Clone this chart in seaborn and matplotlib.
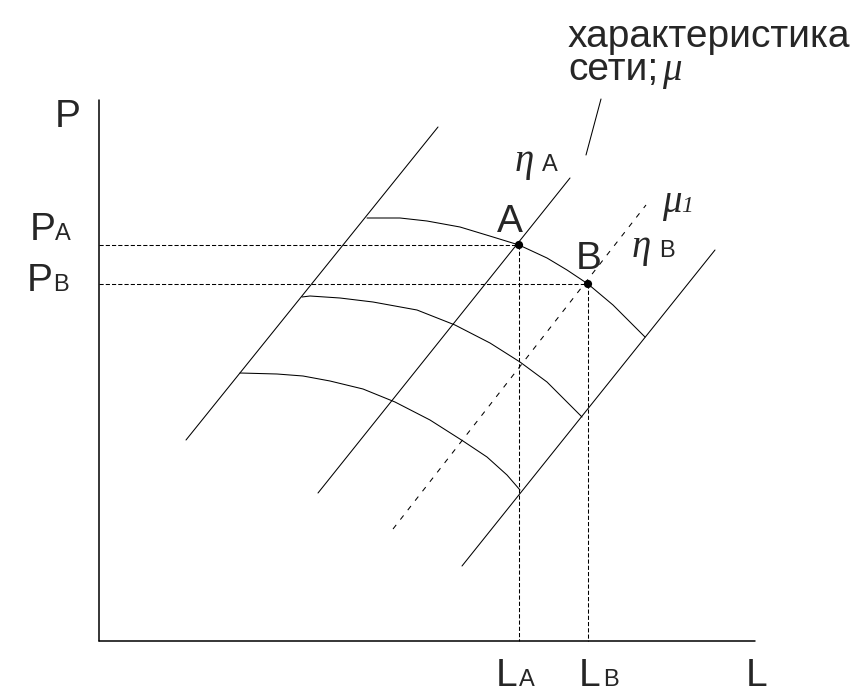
import numpy as np
import pandas as pd
import matplotlib.pyplot as plt
import seaborn as sns

sns.set_theme(style='white')
plt.rcParams['font.family'] = ['Liberation Sans', 'DejaVu Sans']

# all coordinates (pixels, y grows downward)
# coordinate axes
axis_x = [[99, 99], [99, 755]]
axis_y = [[100, 641], [641, 641]]

# straight rays: left, eta_A, eta_B
ray_x = [[186, 438], [318, 570], [462, 715]]
ray_y = [[440, 127], [493, 178], [566, 250]]

# dotted ray mu_1
mu1_x = [393, 646]
mu1_y = [529, 205]

# three arcs (top passes through A and B)
top_x = [367, 400, 427, 460, 493, 519, 547, 567, 588, 613, 633, 645]
top_y = [218, 218, 221, 227, 237, 245, 258, 270, 284, 305, 325, 337]
mid_x = [302, 310, 340, 373, 417, 455, 490, 520, 547, 567, 582]
mid_y = [297, 296, 298, 302, 310, 325, 343, 362, 382, 402, 417]
bot_x = [240, 277, 303, 330, 363, 395, 430, 463, 487, 507, 520]
bot_y = [373, 374, 376, 381, 389, 402, 420, 441, 457, 475, 490]

# points A and B
pt_x = [519, 588]
pt_y = [245, 284]
origin_x = 99
origin_y = 641

# pointer from the label to the mu line
ptr_x = [601, 586]
ptr_y = [99, 155]


def segs(xs, ys, start=0):
    rows = []
    for i, (sx, sy) in enumerate(zip(xs, ys)):
        for x, y in zip(sx, sy):
            rows.append({'x': x, 'y': y, 'seg': start + i})
    return pd.DataFrame(rows)


fig = plt.figure(figsize=(8.64, 6.95), dpi=100)
ax = fig.add_axes([0, 0, 1, 1])

# axes
sns.lineplot(data=segs(axis_x, axis_y), x='x', y='y', units='seg', estimator=None,
             sort=False, color='black', lw=1.1, ax=ax, legend=False)

# solid rays, arcs and pointer
solid = segs(ray_x + [top_x, mid_x, bot_x, ptr_x], ray_y + [top_y, mid_y, bot_y, ptr_y])
sns.lineplot(data=solid, x='x', y='y', units='seg', estimator=None,
             sort=False, color='black', lw=0.75, ax=ax, legend=False)

# guide lines to the axes
gx = [[origin_x, pt_x[0]], [origin_x, pt_x[1]], [pt_x[0], pt_x[0]], [pt_x[1], pt_x[1]]]
gy = [[pt_y[0], pt_y[0]], [pt_y[1], pt_y[1]], [pt_y[0], origin_y], [pt_y[1], origin_y]]
sns.lineplot(data=segs(gx, gy), x='x', y='y', units='seg', estimator=None,
             sort=False, color='black', lw=0.75, linestyle=(0, (4, 2)), ax=ax, legend=False)

# dotted mu1 ray
sns.lineplot(data=segs([mu1_x], [mu1_y]), x='x', y='y', units='seg', estimator=None,
             sort=False, color='black', lw=0.75, linestyle=(0, (5, 6.5)), ax=ax, legend=False)

sns.scatterplot(x=pt_x, y=pt_y, color='black', s=35, edgecolor='none', ax=ax, zorder=5)

ax.set_xlim(0, 864)
ax.set_ylim(695, 0)
ax.axis('off')

big = 28
small = 17
greek = dict(family=['Liberation Serif', 'DejaVu Serif'], style='italic', fontweight='light')

def txt(x, y, s, size, **kw):
    ax.text(x, y, s, fontsize=size, ha='left', va='baseline', **kw)

txt(568, 47, 'характеристика', big)
txt(568, 80, 'сети;', big)
txt(662, 80, 'μ', big, **greek)

txt(55, 127, 'P', big)
txt(30, 240, 'P', big)
txt(55, 240, 'A', small)
txt(27, 291, 'P', big)
txt(53, 291, 'B', small)

txt(497, 232, 'A', big)
txt(576, 269, 'B', big)

txt(515, 171, 'η', big, **greek)
txt(542, 171, 'A', small)
txt(632, 257, 'η', big, **greek)
txt(659, 257, 'B', small)
txt(662, 212, 'μ', big, **greek)
txt(681, 212, '1', small, **greek)

txt(496, 686, 'L', big)
txt(519, 686, 'A', small)
txt(579, 686, 'L', big)
txt(603, 686, 'B', small)
txt(746, 686, 'L', big)

fig.savefig('out.png', dpi=100)
